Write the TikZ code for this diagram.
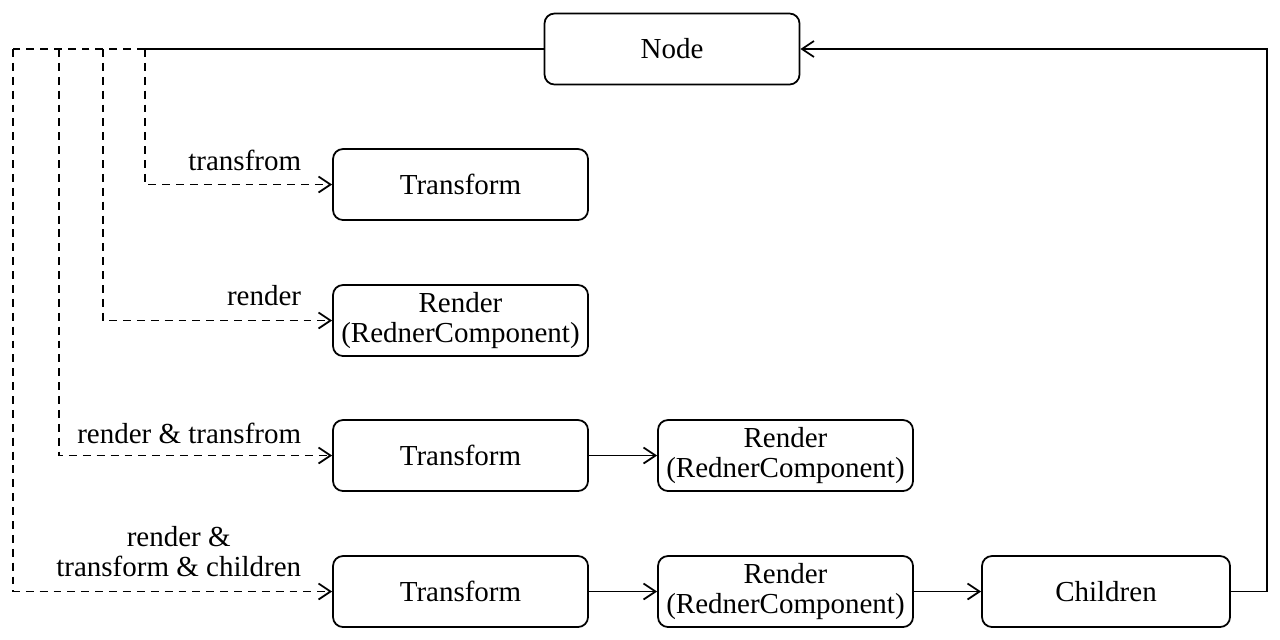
\documentclass[tikz,border=0pt]{standalone}
\usepackage{fontspec}
\setmainfont{Liberation Serif}
\usepackage{tikz}
\usetikzlibrary{arrows.meta,positioning}

\begin{document}
\begin{tikzpicture}[
    line width=1pt,
    >={Straight Barb[length=2.4mm,width=3.2mm,line width=1pt]},
    box/.style={rectangle, draw=black, rounded corners=0.2cm, minimum width=5.1cm, minimum height=1.42cm, align=center, font=\fontsize{16.5}{17}\selectfont, inner sep=0pt},
    lbl/.style={anchor=east, align=center, font=\fontsize{16.5}{17}\selectfont, inner sep=0pt},
    dashline/.style={dash pattern=on 4.5pt off 3.4pt}
]
\useasboundingbox (0,0) rectangle (25.6,-12.78);

% Root node
\node[box] (node) at (13.44, -0.98) {Node};

% Component variants
\node[box] (tf1) at (9.21, -3.69) {Transform};
\node[box] (rd1) at (9.21, -6.41) {Render\\(RednerComponent)};
\node[box] (tf2) at (9.21, -9.11) {Transform};
\node[box] (rd2) at (15.71, -9.11) {Render\\(RednerComponent)};
\node[box] (tf3) at (9.21, -11.83) {Transform};
\node[box] (rd3) at (15.71, -11.83) {Render\\(RednerComponent)};
\node[box, minimum width=4.96cm] (ch) at (22.12, -11.83) {Children};

% Branch points on the top line
\coordinate (b1) at (2.90, -0.98);
\coordinate (b2) at (2.06, -0.98);
\coordinate (b3) at (1.18, -0.98);
\coordinate (b4) at (0.26, -0.98);
\coordinate (back) at (25.34, -0.98);

% Labels
\node[lbl] (l1) at (6.04, -3.20) {transfrom};
\node[lbl] (l2) at (6.04, -5.92) {render};
\node[lbl] (l3) at (6.04, -8.66) {render \& transfrom};
\node[lbl] (l4) at (6.04, -11.04) {render \&\\transform \& children};

% Node to branches
\draw (node.west) -- (b1);
\draw[dashline] (b1) -- (b4);
\draw[->, dashline] (b1) |- (tf1.west);
\draw[->, dashline] (b2) |- (rd1.west);
\draw[->, dashline] (b3) |- (tf2.west);
\draw[->, dashline] (b4) |- (tf3.west);

% Chains
\draw[->] (tf2) -- (rd2);
\draw[->] (tf3) -- (rd3);
\draw[->] (rd3) -- (ch);

% Children back to Node
\draw[->] (ch.east) -| (back) -- (node.east);

\end{tikzpicture}
\end{document}
